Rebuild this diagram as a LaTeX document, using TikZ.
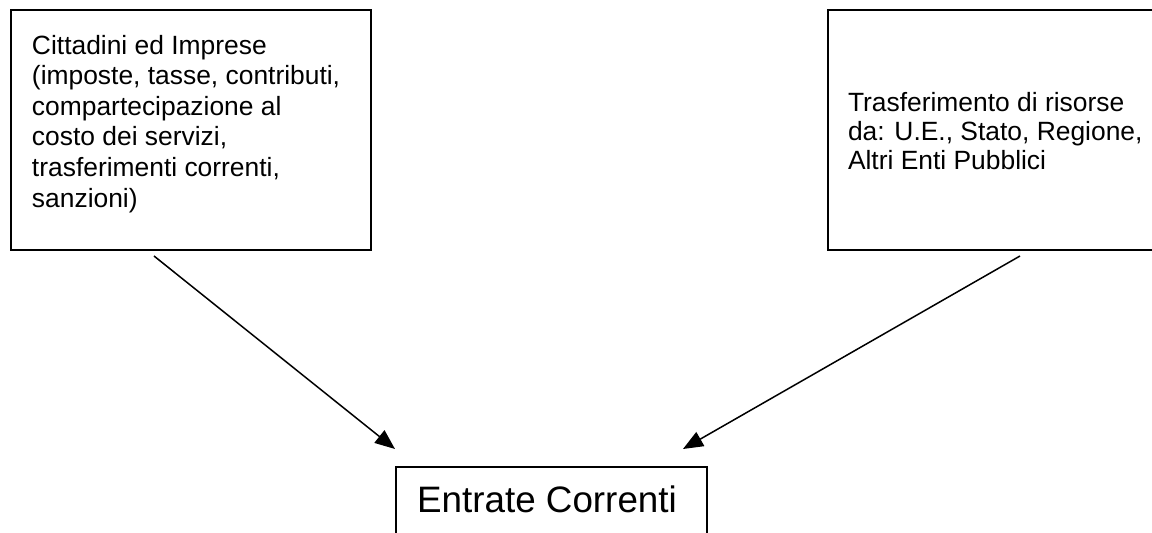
\documentclass[tikz,border=0pt]{standalone}
\usepackage{fontspec}
\setmainfont{Liberation Sans}
\usetikzlibrary{arrows.meta}
\begin{document}
\begin{tikzpicture}[x=0.5pt,y=-0.5pt,
  box/.style={draw, line width=0.9pt, inner sep=0pt, outer sep=0pt, anchor=north west},
  txt/.style={inner sep=0pt, outer sep=0pt, anchor=north west, align=left,
    font=\fontsize{13.2pt}{15.3pt}\selectfont},
  txtb/.style={txt, font=\fontsize{13.2pt}{14.5pt}\selectfont},
  big/.style={inner sep=0pt, outer sep=0pt, anchor=base, font=\fontsize{18.4pt}{22pt}\selectfont},
  arr/.style={line width=0.75pt, -{Triangle[length=10pt,width=8pt]}}]
\useasboundingbox (0,0) rectangle (1152,533);
\clip (0,0) rectangle (1152,533);
\node[box, minimum width=180pt, minimum height=120pt] (cit) at (11,10) {};
\node[box, minimum width=170pt, minimum height=120pt] (tra) at (828,10) {};
\node[box, minimum width=155.5pt, minimum height=60pt] (ent) at (396,467) {};
\node[txt] (citt) at (32,35) {Cittadini ed Imprese\\(imposte, tasse, contributi,\\compartecipazione al\\costo dei servizi,\\trasferimenti correnti,\\sanzioni)};
\node[txtb] (trat) at (848,92) {Trasferimento di risorse\\da: U.E., Stato, Regione,\\Altri Enti Pubblici};
\node[big] (entt) at (547,513) {Entrate Correnti};
\coordinate (a1) at (154,256);
\coordinate (a2) at (395,449);
\coordinate (b1) at (1020,256);
\coordinate (b2) at (683,449);
\draw[arr] (a1) -- (a2);
\draw[arr] (b1) -- (b2);
\end{tikzpicture}
\end{document}
